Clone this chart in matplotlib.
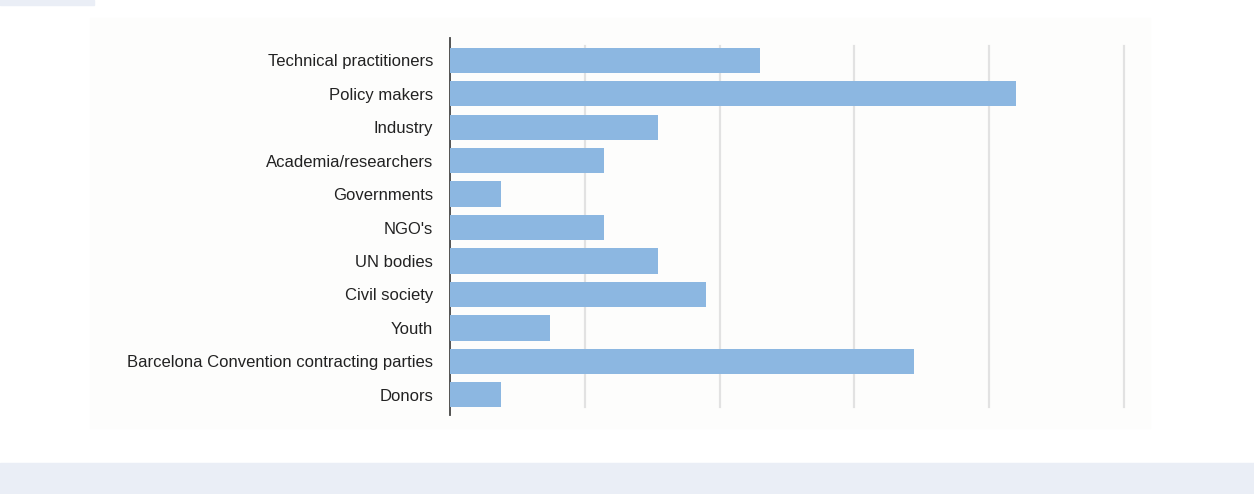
import matplotlib
matplotlib.use("Agg")
import matplotlib.pyplot as plt
from matplotlib.patches import Rectangle

categories = ["Technical practitioners", "Policy makers", "Industry", "Academia/researchers",
              "Governments", "NGO's", "UN bodies", "Civil society", "Youth",
              "Barcelona Convention contracting parties", "Donors"]
values = [11.5, 21.0, 7.7, 5.7, 1.9, 5.7, 7.7, 9.5, 3.7, 17.2, 1.9]
grid_ticks = [5, 10, 15, 20, 25]

W, H = 1254, 494
fig = plt.figure(figsize=(W / 100, H / 100), dpi=100)
fig.patch.set_facecolor("white")

# decorative page bands
fig.add_artist(Rectangle((0, 0), 1, 31 / H, transform=fig.transFigure, color="#eaeef6", zorder=0))
fig.add_artist(Rectangle((0, 1 - 5 / H), 94 / W, 5 / H, transform=fig.transFigure, color="#eaeef6", zorder=0))
# faint plot background
fig.add_artist(Rectangle((90 / W, 1 - 428 / H), (1150 - 90) / W, (428 - 18) / H,
                         transform=fig.transFigure, color="#fdfdfc", zorder=0))

left, right, top, bottom = 450, 1150, 38, 415
ax = fig.add_axes([left / W, 1 - bottom / H, (right - left) / W, (bottom - top) / H])
ax.set_facecolor("none")

y = list(range(len(categories)))
ax.barh(y, values, height=0.75, color="#8cb7e1", zorder=3)
ax.set_yticks(y)
ax.set_yticklabels(categories, fontsize=12, family="Liberation Sans", color="#222222")
ax.set_xlim(0, 25.96)
ax.set_ylim(10.6, -0.66)

for g in grid_ticks:
    ax.axvline(g, color="#e2e2e2", lw=1.6, zorder=1, ymin=0.02, ymax=0.98)

ax.set_xticks([])
ax.tick_params(axis="y", length=0, pad=12)
for s in ["top", "right", "bottom"]:
    ax.spines[s].set_visible(False)
ax.spines["left"].set_color("#444444")
ax.spines["left"].set_linewidth(1.3)

fig.savefig("out.png", dpi=100)
